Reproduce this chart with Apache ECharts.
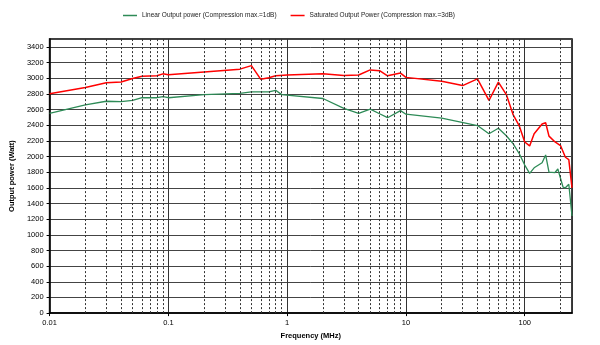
<!DOCTYPE html>
<html>
<head>
<meta charset="utf-8">
<script src="https://cdn.jsdelivr.net/npm/echarts@6/dist/echarts.min.js"></script>
<style>html,body{margin:0;padding:0;background:#fff}#c{width:600px;height:345px}</style>
</head>
<body>
<div id="c"></div>
<script>
var linearName = 'Linear Output power (Compression max.=1dB)';
var satName = 'Saturated Output Power (Compression max.=3dB)';

var linearFreq = [0.01,0.02,0.03,0.04,0.05,0.06,0.08,0.09,0.1,0.2,0.4,0.5,0.7,0.8,0.9,2,3,4,5,6,7,9,10,20,40,50,60,70,80,90,100,110,120,140,150,160,180,190,210,220,235,250];
var linearPower = [2550,2660,2705,2700,2715,2750,2750,2765,2750,2790,2805,2825,2825,2845,2790,2740,2615,2550,2605,2545,2495,2585,2540,2490,2395,2290,2360,2265,2160,2035,1890,1785,1855,1920,2020,1800,1795,1840,1610,1600,1645,1240];

var satFreq = [0.01,0.02,0.03,0.04,0.05,0.06,0.08,0.09,0.1,0.4,0.5,0.6,0.7,0.8,1,2,3,4,5,6,7,9,10,20,30,40,50,60,70,80,90,100,110,120,140,150,160,180,200,220,235,250];
var satPower = [2800,2880,2940,2950,2995,3025,3030,3055,3045,3115,3160,2985,3005,3030,3040,3055,3035,3040,3105,3095,3030,3065,3010,2960,2905,2990,2715,2950,2790,2530,2390,2185,2135,2290,2415,2430,2260,2185,2140,1990,1960,1600];

var minorGridFreq = [0.02,0.03,0.04,0.05,0.06,0.07,0.08,0.09,0.2,0.3,0.4,0.5,0.6,0.7,0.8,0.9,2,3,4,5,6,7,8,9,20,30,40,50,60,70,80,90,200];

function pairs(xs, ys){ return xs.map(function(x,i){ return [x, ys[i]]; }); }

var FONT = '"Liberation Sans", Arial, sans-serif';
var chart = echarts.init(document.getElementById('c'), null, {renderer:'canvas'});
chart.setOption({
  animation: false,
  backgroundColor: '#fff',
  textStyle: {fontFamily: FONT},
  legend: {
    data: [linearName, satName],
    left: 118, top: 7,
    icon: 'rect', itemWidth: 14, itemHeight: 1.5, itemGap: 14,
    textStyle: {fontSize: 6.5, color: '#222', fontFamily: FONT}
  },
  grid: {left: 49, right: 28, top: 39, bottom: 28, show: true, borderColor: '#000', borderWidth: 1.5, backgroundColor: '#fff'},
  xAxis: {
    type: 'log', logBase: 10, min: 0.01, max: 250,
    name: 'Frequency (MHz)', nameLocation: 'middle', nameGap: 17,
    nameTextStyle: {fontWeight: 'bold', fontSize: 7.5, color: '#000', fontFamily: FONT},
    axisLine: {lineStyle: {color: '#000', width: 1.5}},
    axisTick: {show: true, length: 3, lineStyle: {color: '#000'}},
    axisLabel: {fontSize: 7.5, color: '#000', margin: 6, showMaxLabel: false, fontFamily: FONT,
      formatter: function(v){ return String(+v.toPrecision(6)); }},
    splitLine: {show: true, lineStyle: {color: '#333', width: 1}}
  },
  yAxis: {
    type: 'value', min: 0, max: 3500, interval: 200,
    name: 'Output power (Watt)', nameLocation: 'middle', nameGap: 33,
    nameTextStyle: {fontWeight: 'bold', fontSize: 7.5, color: '#000', fontFamily: FONT},
    axisLine: {show: true, lineStyle: {color: '#000', width: 1.5}},
    axisTick: {show: true, length: 3, lineStyle: {color: '#000'}},
    axisLabel: {fontSize: 7.5, color: '#000', margin: 6, showMaxLabel: false, fontFamily: FONT,
      formatter: function(v){ return String(v); }},
    splitLine: {show: true, lineStyle: {color: '#444', width: 1}}
  },
  series: [
    {
      name: 'grid', type: 'line', data: [], z: 1, silent: true,
      markLine: {
        silent: true, symbol: 'none', label: {show: false}, animation: false,
        lineStyle: {color: '#333', width: 1, type: [2, 2]},
        data: minorGridFreq.map(function(f){ return {xAxis: f}; })
      }
    },
    {
      name: linearName, type: 'line', data: pairs(linearFreq, linearPower), z: 3,
      showSymbol: false, symbol: 'none', color: '#2e8b57',
      lineStyle: {color: '#2e8b57', width: 1.3}
    },
    {
      name: satName, type: 'line', data: pairs(satFreq, satPower), z: 4,
      showSymbol: false, symbol: 'none', color: '#ff0000',
      lineStyle: {color: '#ff0000', width: 1.5}
    }
  ]
});
</script>
</body>
</html>
